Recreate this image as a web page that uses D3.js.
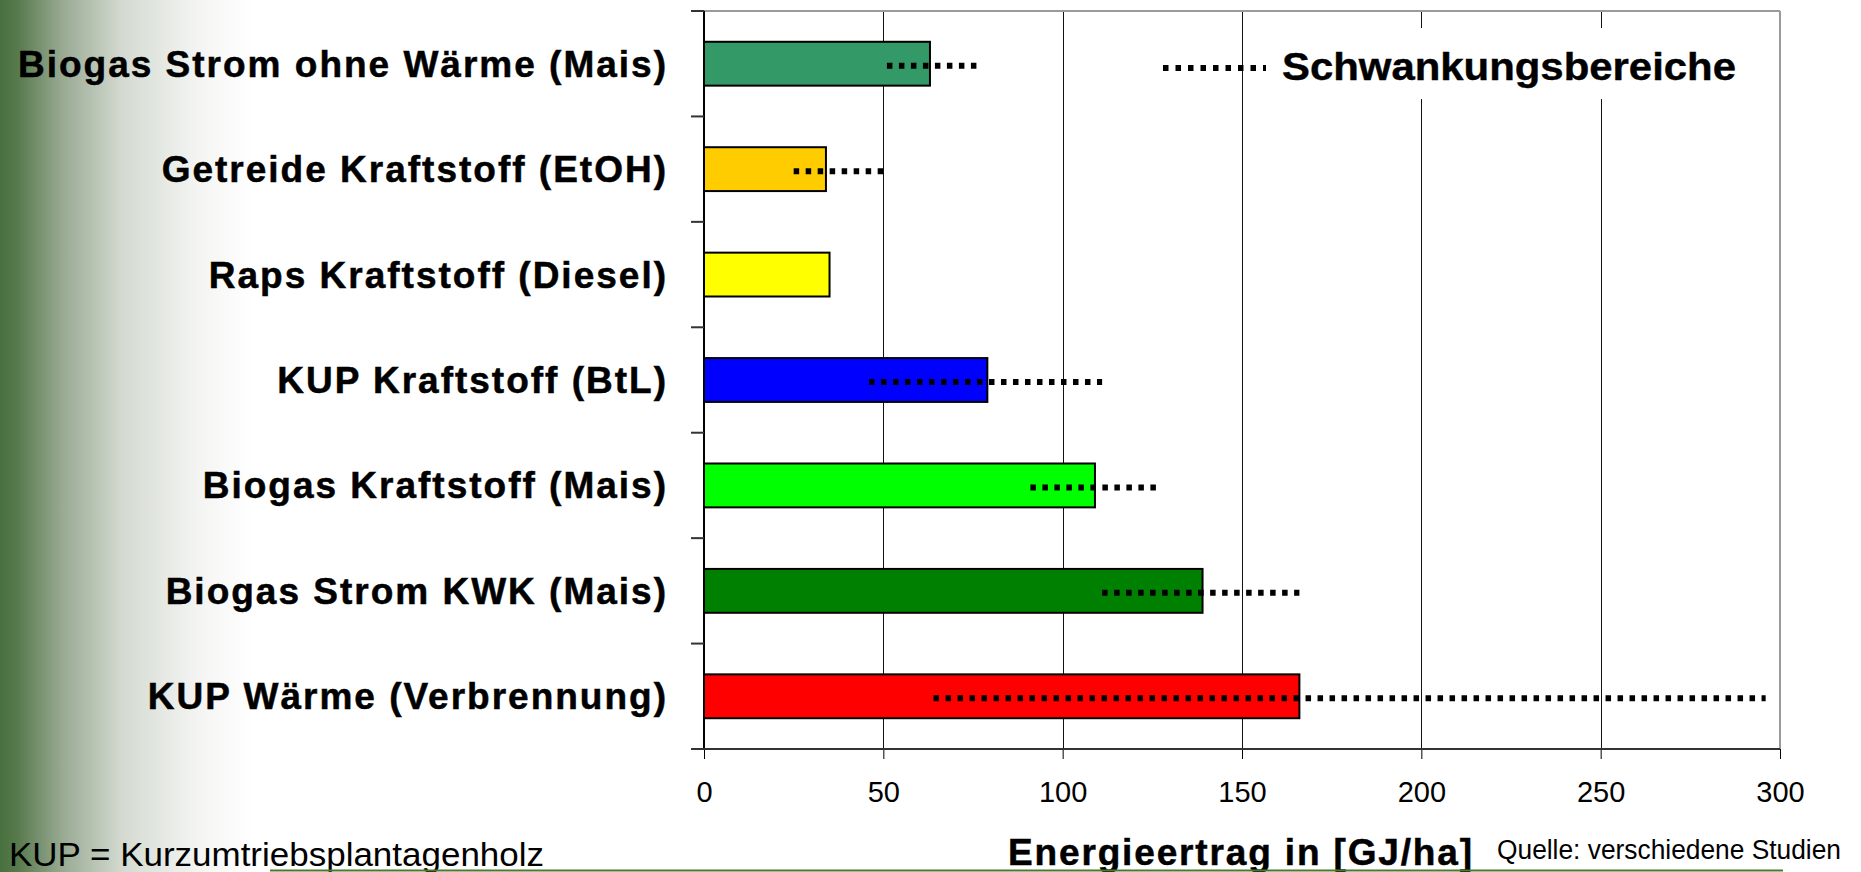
<!DOCTYPE html>
<html><head><meta charset="utf-8">
<script src="https://cdn.jsdelivr.net/npm/d3@7"></script>
<style>html,body{margin:0;padding:0;background:#fff;overflow:hidden}</style>
</head><body>
<svg id="c" width="1861" height="872"></svg>
<script>
const categories = ["Biogas Strom ohne Wärme (Mais)","Getreide Kraftstoff (EtOH)","Raps Kraftstoff (Diesel)","KUP Kraftstoff (BtL)","Biogas Kraftstoff (Mais)","Biogas Strom KWK (Mais)","KUP Wärme (Verbrennung)"];
const values = [63, 34, 35, 79, 109, 139, 166];
const rangeLow = [51, 25, null, 46, 91, 111, 64];
const rangeHigh = [77, 51, null, 111, 127, 166, 296];
const barColors = ["#339966","#FFCC00","#FFFF00","#0000FF","#00FF00","#008000","#FF0000"];
const xTicks = [0, 50, 100, 150, 200, 250, 300];
const legendLabel = "Schwankungsbereiche";
const xTitle = "Energieertrag in [GJ/ha]";
const sourceNote = "Quelle: verschiedene Studien";
const abbrevNote = "KUP = Kurzumtriebsplantagenholz";

const svg = d3.select("#c");
const W = 1861, H = 872;
const plot = {left: 704, right: 1780, top: 11, bottom: 749};
const FONT = "'Liberation Sans', Arial, sans-serif";

// background gradient on the left
const defs = svg.append("defs");
const grad = defs.append("linearGradient").attr("id","bg").attr("x1",0).attr("x2",1).attr("y1",0).attr("y2",0);
[[0,"#48703e"],[0.07,"#587a4e"],[0.24,"#97a991"],[0.48,"#d4dad1"],[0.78,"#f4f5f3"],[1,"#ffffff"]]
  .forEach(([o,c]) => grad.append("stop").attr("offset",o).attr("stop-color",c));
svg.append("rect").attr("x",0).attr("y",0).attr("width",255).attr("height",H).attr("fill","url(#bg)");

const x = d3.scaleLinear().domain([0,300]).range([plot.left, plot.right]);
const y = d3.scaleBand().domain(categories).range([plot.top, plot.bottom]).padding(0);
const barFrac = 0.416;

// plot background
svg.append("rect").attr("x",plot.left).attr("y",plot.top).attr("width",plot.right-plot.left).attr("height",plot.bottom-plot.top).attr("fill","#fff");

// gridlines
svg.append("g").selectAll("line").data(xTicks.filter(t => t>0 && t<300)).join("line")
  .attr("x1",d=>Math.round(x(d))+0.5).attr("x2",d=>Math.round(x(d))+0.5)
  .attr("y1",plot.top).attr("y2",plot.bottom)
  .attr("stroke","#111").attr("stroke-width",1);

// plot border (top/right gray)
svg.append("line").attr("x1",plot.left).attr("x2",plot.right).attr("y1",plot.top).attr("y2",plot.top).attr("stroke","#9a9a9a").attr("stroke-width",2);
svg.append("line").attr("x1",plot.right).attr("x2",plot.right).attr("y1",plot.top).attr("y2",plot.bottom).attr("stroke","#9a9a9a").attr("stroke-width",2);

// legend box (white, covers gridlines)
svg.append("rect").attr("x",1272).attr("y",28).attr("width",488).attr("height",71).attr("fill","#fff");

// bars
svg.append("g").selectAll("rect").data(categories).join("rect")
  .attr("x", x(0))
  .attr("y", d => y(d) + y.bandwidth()*(1-barFrac)/2)
  .attr("width", (d,i) => x(values[i]) - x(0))
  .attr("height", y.bandwidth()*barFrac)
  .attr("fill", (d,i) => barColors[i])
  .attr("stroke","#000").attr("stroke-width",2);

// range dotted lines
svg.append("g").selectAll("line").data(categories.filter((d,i)=>rangeLow[i]!==null)).join("line")
  .attr("x1", d => x(rangeLow[categories.indexOf(d)]))
  .attr("x2", d => x(rangeHigh[categories.indexOf(d)]))
  .attr("y1", d => y(d) + y.bandwidth()/2 + 2)
  .attr("y2", d => y(d) + y.bandwidth()/2 + 2)
  .attr("stroke","#000").attr("stroke-width",6).attr("stroke-dasharray","5.5,6.5");

// left axis line + category ticks (between categories)
svg.append("line").attr("x1",plot.left).attr("x2",plot.left).attr("y1",plot.top).attr("y2",plot.bottom).attr("stroke","#000").attr("stroke-width",2);
const boundaries = categories.map(c => y(c)).concat([plot.bottom]);
svg.append("g").selectAll("line").data(boundaries).join("line")
  .attr("x1",plot.left-13).attr("x2",plot.left).attr("y1",d=>d).attr("y2",d=>d)
  .attr("stroke","#333").attr("stroke-width",2);

// bottom axis
const xAxis = d3.axisBottom(x).tickValues(xTicks).tickSize(10).tickPadding(22).tickFormat(d3.format("d"));
const gx = svg.append("g").attr("transform",`translate(0,${plot.bottom})`).call(xAxis);
gx.select(".domain").remove();
gx.selectAll(".tick line").attr("stroke","#000").attr("stroke-width",1);
gx.selectAll(".tick text").attr("font-family",FONT).attr("font-size",29).attr("fill","#000").attr("dy","0.71em");
svg.append("line").attr("x1",plot.left-13).attr("x2",plot.right).attr("y1",plot.bottom).attr("y2",plot.bottom).attr("stroke","#333").attr("stroke-width",2);

// category labels
svg.append("g").selectAll("text").data(categories).join("text")
  .attr("x", 668).attr("y", d => y(d) + y.bandwidth()/2 + 13)
  .attr("text-anchor","end").attr("font-family",FONT).attr("font-weight","bold")
  .attr("font-size",37).attr("letter-spacing","2px").attr("fill","#000")
  .attr("stroke","#000").attr("stroke-width",0.5)
  .text(d => d);

// legend
svg.append("line").attr("x1",1163).attr("x2",1266).attr("y1",68).attr("y2",68)
  .attr("stroke","#000").attr("stroke-width",6).attr("stroke-dasharray","5.5,7");
svg.append("text").attr("x",1282).attr("y",80).attr("font-family",FONT).attr("font-weight","bold")
  .attr("font-size",38).attr("textLength",454).attr("lengthAdjust","spacingAndGlyphs")
  .attr("stroke","#000").attr("stroke-width",0.4).text(legendLabel);

// axis title & notes
svg.append("text").attr("x",1008).attr("y",865).attr("font-family",FONT).attr("font-weight","bold")
  .attr("font-size",37).attr("textLength",464).attr("lengthAdjust","spacing")
  .attr("stroke","#000").attr("stroke-width",0.5).text(xTitle);
svg.append("text").attr("x",1497).attr("y",859).attr("font-family",FONT)
  .attr("font-size",27).attr("textLength",344).attr("lengthAdjust","spacingAndGlyphs").text(sourceNote);
svg.append("text").attr("x",9).attr("y",866).attr("font-family",FONT)
  .attr("font-size",33).attr("textLength",535).attr("lengthAdjust","spacingAndGlyphs").text(abbrevNote);

// bottom green rule
svg.append("line").attr("x1",270).attr("x2",1783).attr("y1",870.5).attr("y2",870.5).attr("stroke","#4a7a2e").attr("stroke-width",2);
</script>
</body></html>
